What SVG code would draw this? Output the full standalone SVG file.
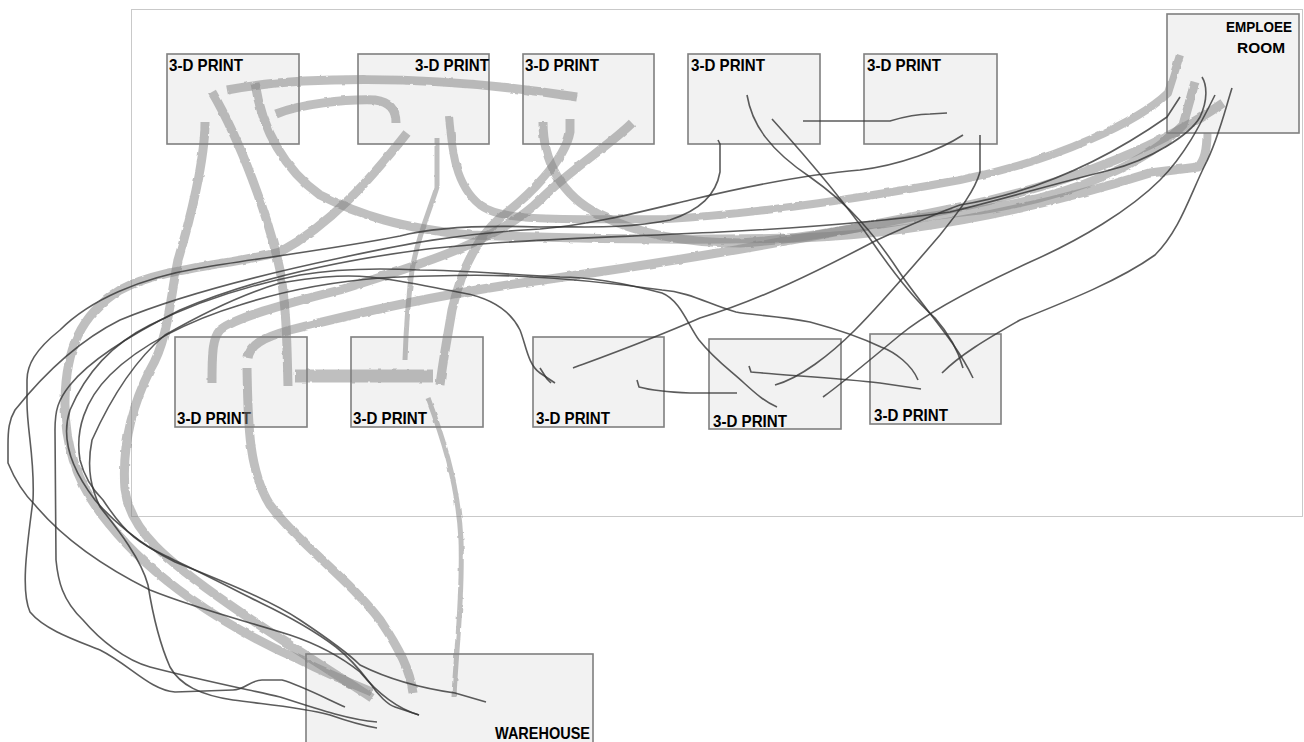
<svg xmlns="http://www.w3.org/2000/svg" width="1304" height="742" viewBox="0 0 1304 742">
<defs>
<filter id="rough" filterUnits="userSpaceOnUse" x="0" y="0" width="1304" height="742">
<feTurbulence type="fractalNoise" baseFrequency="0.12" numOctaves="2" seed="3" result="n"/>
<feDisplacementMap in="SourceGraphic" in2="n" scale="2.5" xChannelSelector="R" yChannelSelector="G"/>
</filter>
</defs>
<style>
.frame{fill:none;stroke:#c9c9c9;stroke-width:1}
.box{fill:#f2f2f2;stroke:#7f7f7f;stroke-width:1.6}
.lbl{font-family:"Liberation Sans",Arial,sans-serif;font-weight:bold;font-size:16.5px;fill:#000}
.lbs{font-family:"Liberation Sans",Arial,sans-serif;font-weight:bold;font-size:15px;fill:#000}
.tk{fill:none;stroke:#7f7f7f;stroke-opacity:.5;stroke-width:9;stroke-linejoin:round}
.tm{fill:none;stroke:#7f7f7f;stroke-opacity:.5;stroke-width:5;stroke-linejoin:round}
.tn{fill:none;stroke:#333;stroke-opacity:.8;stroke-width:1.6;stroke-linejoin:round}
</style>
<rect class="frame" x="131.5" y="9.5" width="1171" height="507"/>
<g id="print-top-1"><rect class="box" x="167" y="54" width="132" height="90"/><text class="lbl" x="169" y="71" textLength="74" lengthAdjust="spacingAndGlyphs">3-D PRINT</text></g>
<g id="print-top-2"><rect class="box" x="358" y="54" width="131" height="90"/><text class="lbl" x="415" y="71" textLength="74" lengthAdjust="spacingAndGlyphs">3-D PRINT</text></g>
<g id="print-top-3"><rect class="box" x="523" y="54" width="131" height="90"/><text class="lbl" x="525" y="71" textLength="74" lengthAdjust="spacingAndGlyphs">3-D PRINT</text></g>
<g id="print-top-4"><rect class="box" x="688" y="54" width="132" height="90"/><text class="lbl" x="691" y="71" textLength="74" lengthAdjust="spacingAndGlyphs">3-D PRINT</text></g>
<g id="print-top-5"><rect class="box" x="864" y="54" width="133" height="90"/><text class="lbl" x="867" y="71" textLength="74" lengthAdjust="spacingAndGlyphs">3-D PRINT</text></g>
<g id="employee-room"><rect class="box" x="1167" y="14" width="132" height="119"/><text class="lbs" x="1292" y="32" text-anchor="end" textLength="66" lengthAdjust="spacingAndGlyphs">EMPLOEE</text><text class="lbs" x="1285" y="53" text-anchor="end" textLength="48" lengthAdjust="spacingAndGlyphs">ROOM</text></g>
<g id="print-bottom-1"><rect class="box" x="175" y="337" width="132" height="90"/><text class="lbl" x="177" y="424" textLength="74" lengthAdjust="spacingAndGlyphs">3-D PRINT</text></g>
<g id="print-bottom-2"><rect class="box" x="351" y="337" width="132" height="90"/><text class="lbl" x="353" y="424" textLength="74" lengthAdjust="spacingAndGlyphs">3-D PRINT</text></g>
<g id="print-bottom-3"><rect class="box" x="533" y="337" width="131" height="90"/><text class="lbl" x="536" y="424" textLength="74" lengthAdjust="spacingAndGlyphs">3-D PRINT</text></g>
<g id="print-bottom-4"><rect class="box" x="709" y="339" width="132" height="90"/><text class="lbl" x="713" y="427" textLength="74" lengthAdjust="spacingAndGlyphs">3-D PRINT</text></g>
<g id="print-bottom-5"><rect class="box" x="870" y="334" width="131" height="90"/><text class="lbl" x="874" y="421" textLength="74" lengthAdjust="spacingAndGlyphs">3-D PRINT</text></g>
<g id="warehouse"><rect class="box" x="306" y="654" width="287" height="100"/><text class="lbl" x="590" y="739" text-anchor="end" textLength="95" lengthAdjust="spacingAndGlyphs">WAREHOUSE</text></g>
<g id="connectors">
<g id="heavy-paths" filter="url(#rough)">
<path class="tk" d="M227,90 C290,78 420,72 577,97"/>
<path class="tk" d="M276,114 C300,104 345,99 375,100 C390,102 396,110 396,123"/>
<path class="tk" d="M212,92 C240,140 268,215 280,270 C287,310 287,350 288,386"/>
<path class="tk" d="M255,83 C262,130 285,170 320,195 C360,215 400,228 470,235 C600,240 700,240 800,238 C950,232 1080,195 1150,173 L1198,167 C1206,160 1207,145 1207,133"/>
<path class="tk" style="stroke-width:8" d="M449,116 C452,150 455,185 480,205 C500,220 540,220 667,219 C760,214 880,195 960,180 C1060,160 1140,120 1168,93 L1180,55"/>
<path class="tk" d="M543,122 C543,160 560,195 600,215 C640,235 690,243 740,243 C820,238 900,218 980,210 C1080,195 1150,160 1183,125 L1195,82"/>
<path class="tk" d="M248,358 C250,345 262,338 290,330 C360,312 450,292 550,279 C700,258 850,230 960,207 C1080,182 1170,140 1223,103"/>
<path class="tk" d="M632,123 C610,145 570,170 540,200 C500,240 420,265 340,290 C280,305 235,318 220,330 C213,338 212,350 212,383"/>
<path class="tk" d="M570,119 L570,132 C565,160 530,195 500,218 C475,240 460,275 452,310 C447,340 443,360 440,385"/>
<path class="tk" d="M407,133 C370,180 330,225 280,252 C230,265 160,268 120,290 C80,315 66,350 65,400 C64,450 80,490 110,525 C150,575 220,625 300,660 C330,675 355,685 372,692"/>
<path class="tk" d="M205,122 C205,160 190,220 178,260 C170,300 168,340 150,370 C130,410 122,450 125,490 C130,530 165,560 230,605 C280,640 330,670 372,698"/>
<path class="tk" style="stroke-width:13" d="M295,376 L433,376"/>
<path class="tk" d="M247,368 C248,420 248,470 270,505 C300,545 350,580 380,620 C400,650 410,670 413,693"/>
<path class="tm" d="M428,398 C440,430 458,480 461,540 C463,600 456,650 454,697"/>
<path class="tm" d="M437,138 L437,187 C430,210 418,235 412,270 C408,300 406,330 405,360"/>
</g>
<g id="walk-paths">
<path class="tn" d="M718,140 L720,144 L720,172 C716,195 700,210 670,220 C620,230 580,226 540,227 C480,225 430,228 400,236 C340,248 260,258 200,268 C140,278 90,300 60,330 C35,350 27,365 27,380 L27,403 C27,430 35,460 33,500 C28,540 20,590 30,612 C45,630 75,640 100,650 C130,665 150,690 175,692 L233,690 C245,690 250,680 262,680 L282,680 C300,685 325,698 345,707"/>
<path class="tn" d="M963,135 C940,150 900,165 860,170 C800,175 740,188 690,200 C640,212 590,225 540,229 C460,233 400,245 340,258 C260,275 180,295 120,320 C70,345 35,385 15,410 C9,420 8,430 8,445 L8,463 C15,480 25,495 35,505 C60,535 100,565 150,590 C200,610 250,622 290,635 C320,645 345,660 360,672 C375,690 395,708 419,715"/>
<path class="tn" d="M1202,77 C1207,85 1208,100 1200,117 C1190,135 1150,160 1110,170 C1050,185 1000,200 950,212 C880,222 800,228 720,232 C600,238 500,240 420,250 C330,262 250,280 180,310 C130,335 90,360 70,385 C58,400 55,410 55,430 L56,560 C58,580 62,600 83,620 C100,640 125,660 150,667 C200,680 250,690 280,697 C320,710 350,720 377,722"/>
<path class="tn" d="M555,383 L540,373 C528,365 526,345 520,330 C510,310 490,298 463,293 C430,287 400,280 370,277 C340,274 310,278 280,283 C240,295 200,315 165,335 C135,360 110,400 92,440 C86,470 92,490 100,507 C110,520 140,555 148,585 C152,610 158,640 170,667 C180,685 200,695 233,700 C270,705 300,707 330,715 C350,722 365,726 377,728"/>
<path class="tn" d="M540,368 L547,379 L551,383"/>
<path class="tn" d="M777,407 C765,402 755,393 744,383 C730,370 715,360 699,340 C688,325 680,300 662,293 C620,282 590,277 560,277 C500,274 460,270 420,270 C380,268 340,268 300,275 C250,285 200,300 150,325 C110,345 85,375 70,410 C60,440 72,470 95,500 C110,518 140,545 175,562 C220,580 270,600 300,620 C330,640 350,655 360,665 C390,680 420,688 455,693 L486,702"/>
<path class="tn" d="M918,380 C912,365 895,352 881,347 C860,337 840,330 810,322 C780,316 750,315 736,312 C710,305 690,292 662,290 C620,284 560,278 514,276 C470,274 420,276 380,278 C330,282 280,292 240,305 C190,320 140,345 110,375 C85,400 75,430 80,460 C85,480 95,492 103,500 C115,518 125,530 134,537 C150,550 165,555 174,560 C200,572 235,590 261,603 C290,617 320,635 336,647 C350,658 360,670 370,683 C378,695 388,705 395,707 L419,715"/>
<path class="tn" d="M573,368 C600,358 650,340 700,318 C760,300 820,270 877,240 C910,225 940,212 960,205 C1050,190 1120,150 1167,117 L1180,97"/>
<path class="tn" d="M823,397 C840,385 870,360 900,335 C930,310 980,285 1030,262 C1080,240 1130,210 1160,180 C1185,155 1200,125 1215,95"/>
<path class="tn" d="M942,373 C960,355 985,340 1020,320 C1070,300 1120,280 1155,255 C1180,230 1190,195 1205,165 C1218,140 1225,110 1232,88"/>
<path class="tn" d="M980,135 L980,172 C975,190 960,210 940,235 C910,270 880,305 855,330 C830,355 800,378 775,385"/>
<path class="tn" d="M803,121 L890,121 C900,118 915,114 930,114 L947,113"/>
<path class="tn" d="M637,380 L639,387 C650,390 665,392 690,393 L737,393"/>
<path class="tn" d="M749,366 L751,372 C780,375 840,378 880,383 L921,389"/>
<path class="tn" d="M747,95 C752,125 770,150 810,177 C850,205 875,235 900,273 C925,310 955,340 973,378"/>
<path class="tn" d="M772,119 C800,150 840,195 873,243 C895,275 915,300 935,318 C950,335 958,350 963,368"/>
</g>
</g>
</svg>
